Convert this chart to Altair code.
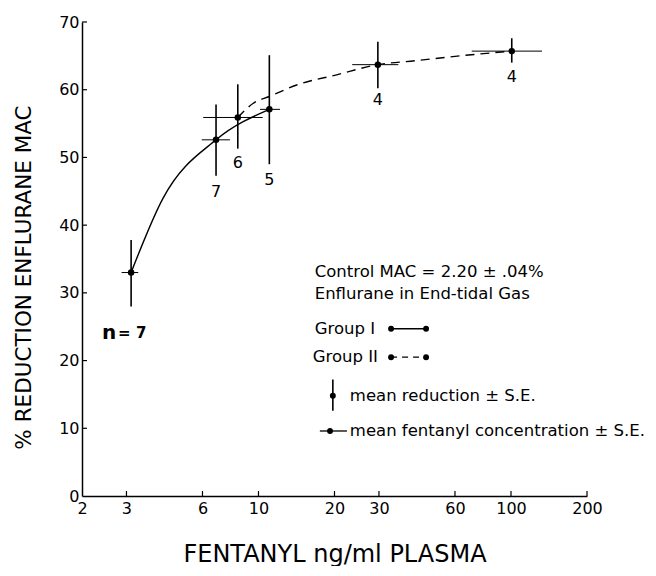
import altair as alt
import pandas as pd

# ---- data ----
pt_x = [3.13, 6.79, 8.28, 11.04, 29.7, 100.7]
pt_y = [33.0, 52.6, 55.9, 57.1, 63.7, 65.7]
pt_ylo = [28.0, 47.3, 51.3, 49.0, 60.2, 64.0]
pt_yhi = [37.8, 57.8, 60.8, 65.1, 67.1, 67.6]
pt_xlo = [2.87, 5.96, 6.04, 10.14, 23.5, 69.9]
pt_xhi = [3.34, 7.71, 10.39, 12.17, 35.8, 132.7]

n_text = ["7", "6", "5", "4", "4"]
n_x = [6.79, 8.28, 11.04, 29.7, 100.7]
n_y = [44.9, 49.2, 46.7, 58.5, 61.9]

g1_x = [3.13, 4.19, 6.79, 11.04]
g1_y = [33.0, 44.0, 52.6, 57.1]

g2_x = [8.28, 9.54, 11.04, 14.17, 20.4, 29.7, 42.3, 62.8, 100.7]
g2_y = [55.9, 58.0, 59.0, 60.7, 62.2, 63.7, 64.3, 65.0, 65.7]

leg_text = ["Control MAC = 2.20 \u00b1 .04%", "Enflurane in End-tidal Gas", "Group I",
            "Group II", "mean reduction \u00b1 S.E.", "mean fentanyl concentration \u00b1 S.E."]
leg_x = [16.7, 16.7, 16.7, 16.4, 23.0, 23.0]
leg_y = [33.1, 29.8, 24.7, 20.5, 14.8, 9.6]

sym_line_x1 = [33.5, 33.5, 17.5]
sym_line_x2 = [46.1, 46.1, 22.4]
sym_line_y = [24.7, 20.5, 9.6]
sym_line_kind = ["solid", "dashed", "solid"]
sym_dot_x = [33.5, 46.1, 33.5, 46.1, 19.7, 19.2]
sym_dot_y = [24.7, 24.7, 20.5, 20.5, 14.8, 9.6]
sym_vbar_x = [19.7]
sym_vbar_y1 = [12.6]
sym_vbar_y2 = [17.2]

x_ticks = [2, 3, 6, 10, 20, 30, 60, 100, 200]
y_ticks = [0, 10, 20, 30, 40, 50, 60, 70]

FONT = "DejaVu Sans"
W, H = 505, 474

xs = alt.Scale(type="log", domain=[2, 200], nice=False)
ys = alt.Scale(domain=[0, 70], nice=False)

pts = pd.DataFrame(dict(x=pt_x, y=pt_y, ylo=pt_ylo, yhi=pt_yhi, xlo=pt_xlo, xhi=pt_xhi))

X = alt.X("x:Q", scale=xs,
          axis=alt.Axis(values=x_ticks, format="d", title="FENTANYL ng/ml PLASMA",
                        grid=False, ticks=False, domainColor="black", domainWidth=1.5,
                        labelFont=FONT, labelFontSize=16, labelColor="black", labelPadding=4,
                        labelFlush=False,
                        titleFont=FONT, titleFontSize=24, titleFontWeight="normal",
                        titleColor="black", titleY=58, titleBaseline="middle"))
Y = alt.Y("y:Q", scale=ys,
          axis=alt.Axis(values=y_ticks, title="% REDUCTION ENFLURANE MAC",
                        grid=False, ticks=False, domainColor="black", domainWidth=1.5,
                        labelFont=FONT, labelFontSize=16, labelColor="black", labelPadding=3,
                        labelFlush=False,
                        titleFont=FONT, titleFontSize=21.5, titleFontWeight="normal",
                        titleColor="black", titleX=-58, titleY=255, titleBaseline="middle"))

base = alt.Chart(pts)

vbars = base.mark_rule(color="black", strokeWidth=1.6).encode(
    x=X, y=alt.Y("ylo:Q", scale=ys), y2="yhi:Q")
hbars = base.mark_rule(color="black", strokeWidth=1.0).encode(
    x=alt.X("xlo:Q", scale=xs), x2="xhi:Q", y=alt.Y("y:Q", scale=ys))
dots = base.mark_circle(color="black", opacity=1, size=42).encode(x=X, y=Y)

g1 = alt.Chart(pd.DataFrame(dict(x=g1_x, y=g1_y))).mark_line(
    color="black", strokeWidth=1.4, interpolate="monotone").encode(x=X, y=Y)
g2 = alt.Chart(pd.DataFrame(dict(x=g2_x, y=g2_y))).mark_line(
    color="black", strokeWidth=1.4, strokeDash=[9, 6], interpolate="monotone").encode(x=X, y=Y)

nlab = alt.Chart(pd.DataFrame(dict(x=n_x, y=n_y, t=n_text))).mark_text(
    font=FONT, fontSize=16, color="black", baseline="middle", align="center").encode(
    x=X, y=Y, text="t:N")

n7a = alt.Chart(pd.DataFrame(dict(x=[2.40], y=[24.1], t=["n"]))).mark_text(
    font=FONT, fontSize=20, fontWeight="bold", color="black", baseline="middle",
    align="left").encode(x=X, y=Y, text="t:N")
n7b = alt.Chart(pd.DataFrame(dict(x=[2.78], y=[24.1], t=["=  7"]))).mark_text(
    font=FONT, fontSize=15, fontWeight="bold", color="black", baseline="middle",
    align="left").encode(x=X, y=Y, text="t:N")

legt = alt.Chart(pd.DataFrame(dict(x=leg_x, y=leg_y, t=leg_text))).mark_text(
    font=FONT, fontSize=16.5, color="black", baseline="middle", align="left").encode(
    x=X, y=Y, text="t:N")

sl = pd.DataFrame(dict(x=sym_line_x1, x2=sym_line_x2, y=sym_line_y, k=sym_line_kind))
sym_solid = alt.Chart(sl[sl.k == "solid"]).mark_rule(color="black", strokeWidth=1.3).encode(
    x=X, x2="x2:Q", y=Y)
sym_dash = alt.Chart(sl[sl.k == "dashed"]).mark_rule(
    color="black", strokeWidth=1.3, strokeDash=[6, 5]).encode(x=X, x2="x2:Q", y=Y)
sym_dots = alt.Chart(pd.DataFrame(dict(x=sym_dot_x, y=sym_dot_y))).mark_circle(
    color="black", opacity=1, size=35).encode(x=X, y=Y)
sym_vbar = alt.Chart(pd.DataFrame(dict(x=sym_vbar_x, y=sym_vbar_y1, y2=sym_vbar_y2))).mark_rule(
    color="black", strokeWidth=1.6).encode(x=X, y=Y, y2="y2:Q")

xt = alt.Chart(pd.DataFrame(dict(x=x_ticks[1:]))).mark_rule(color="black", strokeWidth=1.2).encode(
    x=X, y=alt.value(H), y2=alt.value(H - 5))
yt = alt.Chart(pd.DataFrame(dict(y=y_ticks[1:]))).mark_rule(color="black", strokeWidth=1.2).encode(
    y=Y, x=alt.value(0), x2=alt.value(5))

chart = alt.layer(
    vbars, hbars, g1, g2, dots, nlab, n7a, n7b, legt,
    sym_solid, sym_dash, sym_dots, sym_vbar, xt, yt
).properties(
    width=W, height=H,
    autosize=alt.AutoSizeParams(type="none"),
    padding={"left": 74, "top": 14, "right": 61, "bottom": 70},
    background="white",
).configure_view(stroke=None)

chart.save("out.html", embed_options={"renderer": "svg", "actions": False})
